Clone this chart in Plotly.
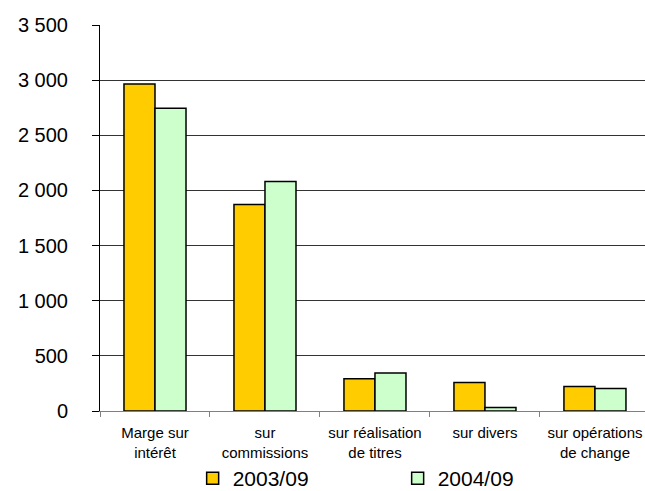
import plotly.graph_objects as go

categories = ["Marge sur<br>intérêt", "sur<br>commissions", "sur réalisation<br>de titres",
              "sur divers", "sur opérations<br>de change"]
series_2003 = [2965, 1873, 292, 259, 222]
series_2004 = [2745, 2082, 344, 32, 204]
y_ticks = [0, 500, 1000, 1500, 2000, 2500, 3000, 3500]

fig = go.Figure()
fig.add_trace(go.Bar(x=categories, y=series_2003, name="2003/09",
                     marker=dict(color="#FFCC00", line=dict(color="black", width=1.5))))
fig.add_trace(go.Bar(x=categories, y=series_2004, name="2004/09",
                     marker=dict(color="#CCFFCC", line=dict(color="black", width=1.5))))

fig.update_layout(
    width=645, height=491,
    margin=dict(l=100, r=0, t=25, b=80, autoexpand=False),
    paper_bgcolor="white", plot_bgcolor="white",
    font=dict(family="Liberation Sans, Arial, sans-serif", color="black"),
    separators=", ",
    barmode="group", bargap=0.436, bargroupgap=0,
    showlegend=True,
    legend=dict(orientation="h", x=0.17, xanchor="left", y=-0.175, yanchor="middle",
                font=dict(size=21), entrywidth=160, itemwidth=30,
                bgcolor="rgba(0,0,0,0)"),
    xaxis=dict(range=[-0.5, 4.455], tickson="boundaries", ticks="outside", ticklen=5,
               tickcolor="#808080", showline=True, linecolor="#808080", linewidth=1,
               tickfont=dict(size=15), showgrid=False, zeroline=False, tickangle=0,
               ticklabelstandoff=8, automargin=False),
    yaxis=dict(range=[0, 3500], tickvals=y_ticks, tickformat=",", ticks="outside", ticklen=7,
               tickcolor="black", showline=True, linecolor="black", linewidth=1,
               tickfont=dict(size=20), showgrid=True, gridcolor="#333333", gridwidth=1,
               zeroline=False, ticklabelstandoff=20, automargin=False),
)

fig.write_html("out.html")
